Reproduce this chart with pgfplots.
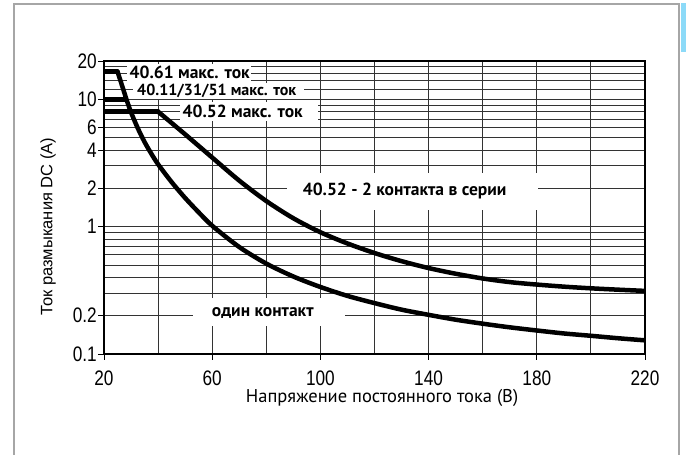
\documentclass[border=0pt]{standalone}
\usepackage{fontspec}
\setmainfont{Liberation Sans}
\newfontfamily\tickfont{Liberation Sans}[FakeStretch=0.82]
\newfontfamily\ptsans{PT Sans}
\usepackage{pgfplots}
\pgfplotsset{compat=1.18}
\begin{document}
\begin{tikzpicture}
\path[use as bounding box] (0pt,0pt) rectangle (686pt,455pt);
\begin{axis}[
  at={(104pt,101pt)}, anchor=south west,
  scale only axis, width=541pt, height=293pt,
  ymode=log, xmin=20, xmax=220, ymin=0.1, ymax=20,
  xtick={20,60,100,140,180,220},
  xticklabels={20,60,100,140,180,220},
  minor xtick={40,80,120,160,200},
  ytick={0.1,0.2,1,2,4,6,10,20},
  yticklabels={0.1,0.2,1,2,4,6,10,20},
  minor ytick={0.3,0.4,0.5,0.6,0.7,0.8,0.9,3,5,7,8,9,12,14,16,18},
  grid=both,
  major grid style={black!80, line width=0.9pt},
  minor grid style={black!80, line width=0.9pt},
  axis line style={line width=2.6pt},
  tick pos=left, tick align=outside,
  major tick length=6pt, minor tick length=0pt,
  every tick/.style={black, line width=0.9pt},
  ticklabel style={font=\tickfont\fontsize{21}{21}\selectfont},
  xticklabel style={inner sep=0pt, yshift=-11pt},
  yticklabel style={inner xsep=1pt},
  xlabel={Напряжение постоянного тока (В)},
  ylabel={Ток размыкания DC (A)},
  xlabel style={font=\ptsans\fontsize{18.5}{18.5}\selectfont, at={(axis description cs:0.514,0)}, anchor=center, yshift=-43.5pt},
  ylabel style={font=\fontsize{16.5}{16.5}\selectfont, at={(axis description cs:-0.1035,0.4345)}, anchor=center},
]
% один контакт
\addplot[black, line width=4.5pt, line cap=round] coordinates {(20,16.5) (25,16.5)};
\addplot[black, line width=4.5pt, line cap=round, line join=round, smooth] coordinates {
 (25,16.5) (27,12.2) (28.3,10) (30,7.9) (32.5,5.93) (35,4.62) (37.5,3.74) (40,3.09)
 (45,2.24) (50,1.68) (55,1.296) (60,1.017) (70,0.692) (80,0.513) (90,0.406)
 (100,0.336) (110,0.286) (120,0.251) (130,0.223) (140,0.203) (150,0.186)
 (160,0.173) (170,0.162) (180,0.153) (190,0.145) (200,0.139) (210,0.133) (220,0.128)};
% 40.11/31/51 max current
\addplot[black, line width=4.5pt] coordinates {(20,10) (28.3,10)};
% 40.52 - 2 contacts in series
\addplot[black, line width=4.5pt, line cap=round] coordinates {(20,8) (40,8)};
\addplot[black, line width=4.5pt, line cap=round, line join=round, smooth] coordinates {
 (40,8) (50,5.31) (60,3.49) (70,2.30) (80,1.59) (90,1.164) (100,0.904)
 (110,0.738) (120,0.621) (130,0.536) (140,0.473) (150,0.427) (160,0.392)
 (170,0.367) (180,0.351) (190,0.338) (200,0.328) (210,0.320) (220,0.313)};
\end{axis}
% label boxes
\fill[white] (127pt,371pt) rectangle (251pt,391pt);
\fill[white] (133pt,356pt) rectangle (304pt,372pt);
\fill[white] (180pt,334pt) rectangle (318pt,353pt);
\fill[white] (287pt,245pt) rectangle (538pt,282pt);
\fill[white] (193pt,129pt) rectangle (345pt,157pt);
\begin{scope}[every node/.style={inner sep=0pt, anchor=west, font=\ptsans\bfseries\fontsize{17.5}{17.5}\selectfont}]
\node at (129.5pt,383pt) {40.61 макс. ток};
\node[font=\ptsans\bfseries\fontsize{16}{16}\selectfont] at (137pt,364pt) {40.11/31/51 макс. ток};
\node at (182.5pt,343.5pt) {40.52 макс. ток};
\node at (302.7pt,263.5pt) {40.52 - 2 контакта в серии};
\node at (211.7pt,142pt) {один контакт};
\end{scope}
% outer frame
\draw[black!35, line width=2.2pt] (13.7pt,-2pt) -- (13.7pt,450.7pt) -- (678.8pt,450.7pt) -- (678.8pt,-2pt);
\fill[cyan!45!white] (681pt,403pt) rectangle (686pt,452pt);
\end{tikzpicture}
\end{document}
